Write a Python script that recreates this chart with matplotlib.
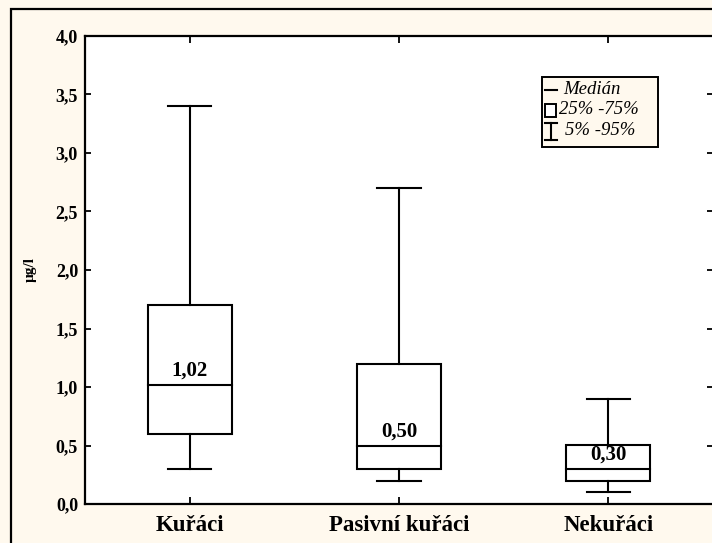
import matplotlib
matplotlib.use("Agg")
import matplotlib.pyplot as plt
from matplotlib.patches import Rectangle
from matplotlib.lines import Line2D

categories = ["Kuřáci", "Pasivní kuřáci", "Nekuřáci"]
p5 = [0.3, 0.2, 0.1]
q1 = [0.6, 0.3, 0.2]
median = [1.02, 0.50, 0.30]
q3 = [1.7, 1.2, 0.5]
p95 = [3.4, 2.7, 0.9]
median_labels = ["1,02", "0,50", "0,30"]
yticks = [0.0, 0.5, 1.0, 1.5, 2.0, 2.5, 3.0, 3.5, 4.0]
ytick_labels = ["0,0", "0,5", "1,0", "1,5", "2,0", "2,5", "3,0", "3,5", "4,0"]

serif = ["Liberation Serif", "DejaVu Serif"]
bg = "#FFF9EE"

W, H = 712, 543
fig = plt.figure(figsize=(W / 100, H / 100), dpi=100, facecolor=bg)
# outer frame
fig.add_artist(Rectangle((11 / W, -0.1), 1.2, (H - 9) / H + 0.1, transform=fig.transFigure,
                         fill=False, edgecolor="black", linewidth=1.6))

left, right, top, bottom = 85, 713, 36, 504
ax = fig.add_axes([left / W, 1 - bottom / H, (right - left) / W, (bottom - top) / H])
ax.set_facecolor("white")

bw = 0.40
cw = 0.206
lw = 1.5
pos = list(range(len(categories)))
for i in pos:
    ax.add_patch(Rectangle((i - bw / 2, q1[i]), bw, q3[i] - q1[i], fill=False,
                           edgecolor="black", linewidth=lw, zorder=3))
    ax.plot([i - bw / 2, i + bw / 2], [median[i], median[i]], color="black", lw=lw, zorder=3)
    ax.plot([i, i], [q3[i], p95[i]], color="black", lw=lw, zorder=3)
    ax.plot([i, i], [p5[i], q1[i]], color="black", lw=lw, zorder=3)
    ax.plot([i - cw / 2, i + cw / 2], [p95[i], p95[i]], color="black", lw=lw, zorder=3)
    ax.plot([i - cw / 2, i + cw / 2], [p5[i], p5[i]], color="black", lw=lw, zorder=3)
    ax.text(i, median[i] + 0.035, median_labels[i], ha="center", va="bottom",
            fontfamily=serif, fontweight="bold", fontsize=15)

ax.set_xlim(-0.5, 2.5)
ax.set_ylim(0, 4.0)
ax.set_yticks(yticks)
ax.set_yticklabels(ytick_labels, fontfamily=serif, fontweight="bold", fontsize=13)
ax.set_xticks(pos)
ax.set_xticklabels(categories, fontfamily=serif, fontweight="bold", fontsize=16.5)
ax.tick_params(axis="y", left=True, right=True, labelright=False, direction="in",
               length=4, width=1.3, pad=5)
ax.tick_params(axis="x", top=True, bottom=True, direction="in", length=5, width=1.3, pad=8)
for s in ax.spines.values():
    s.set_linewidth(1.6)
ax.spines["right"].set_visible(False)

ax.set_ylabel("µg/l", fontfamily=serif, fontweight="bold", fontsize=11, labelpad=14)

# legend
def fx(x): return x / W
def fy(y): return 1 - y / H
lx0, ly0, lx1, ly1 = 542, 77, 658, 147
fig.add_artist(Rectangle((fx(lx0), fy(ly1)), (lx1 - lx0) / W, (ly1 - ly0) / H,
                         transform=fig.transFigure, facecolor=bg, edgecolor="black",
                         linewidth=1.4, zorder=5))
lkw = dict(transform=fig.transFigure, color="black", lw=1.5, zorder=6)
fig.add_artist(Line2D([fx(545), fx(557)], [fy(90), fy(90)], **lkw))
fig.add_artist(Rectangle((fx(545), fy(117)), 11 / W, 13 / H, transform=fig.transFigure,
                         facecolor="white", edgecolor="black", lw=1.4, zorder=6))
fig.add_artist(Line2D([fx(550.5), fx(550.5)], [fy(123), fy(140)], **lkw))
fig.add_artist(Line2D([fx(545), fx(557)], [fy(123), fy(123)], **lkw))
fig.add_artist(Line2D([fx(545), fx(557)], [fy(140), fy(140)], **lkw))
tkw = dict(fontfamily=serif, fontstyle="italic", fontsize=13.5, va="center", ha="left", zorder=7)
fig.text(fx(563), fy(90), "Medián", **tkw)
fig.text(fx(559), fy(110), "25% -75%", **tkw)
fig.text(fx(565), fy(131), "5% -95%", **tkw)

fig.savefig("out.png", dpi=100, facecolor=bg)
